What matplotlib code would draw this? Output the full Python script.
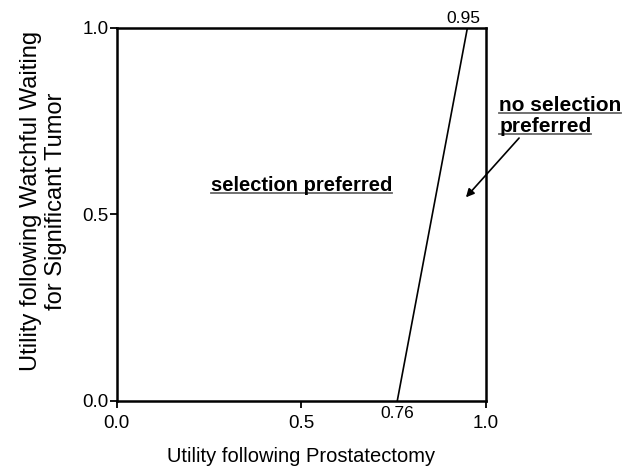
"""Threshold plot: selection vs no selection preferred."""

import matplotlib
matplotlib.use('Agg')
import matplotlib.pyplot as plt

# Data
threshold_x = [0.76, 0.95]
threshold_y = [0.0, 1.0]
x_ticks = [0.0, 0.5, 1.0]
y_ticks = [0.0, 0.5, 1.0]
tick_labels = ['0.0', '0.5', '1.0']

plt.rcParams['font.family'] = ['Liberation Sans', 'DejaVu Sans']


def underline(fig, axes, text, pad=2):
    """Draws a grey underline below a text object."""
    fig.canvas.draw()
    bbox = text.get_window_extent()
    inv = axes.transAxes.inverted()
    (x0, y0), (x1, _) = inv.transform([(bbox.x0, bbox.y0 - pad + 4),
                                       (bbox.x1, bbox.y0)])
    axes.plot([x0, x1], [y0, y0], transform=axes.transAxes, color='#666666',
              lw=1.3, clip_on=False)


def main():
    fig = plt.figure(figsize=(6.31, 4.71), dpi=100)
    axes = fig.add_axes([0.185, 0.149, 0.585, 0.792])

    axes.plot(threshold_x, threshold_y, color='black', lw=1.2)
    axes.set_xlim(0, 1)
    axes.set_ylim(0, 1)
    axes.set_xticks(x_ticks)
    axes.set_xticklabels(tick_labels)
    axes.set_yticks(y_ticks)
    axes.set_yticklabels(tick_labels)
    axes.tick_params(direction='out', length=5, width=1.3, labelsize=13.5,
                     color='black')
    axes.tick_params(axis='x', pad=5)
    axes.tick_params(axis='y', pad=1)
    for spine in axes.spines.values():
        spine.set_linewidth(1.8)

    axes.set_xlabel('Utility following Prostatectomy', fontsize=14.5,
                    labelpad=11)
    axes.set_ylabel('Utility following Watchful Waiting\nfor Significant Tumor',
                    fontsize=17)
    axes.yaxis.set_label_coords(-0.135, 0.536)

    # Threshold value labels
    axes.text(threshold_x[0], -0.015, '0.76', ha='center', va='top',
              fontsize=12.5)
    axes.text(threshold_x[1] - 0.012, 1.006, '0.95', ha='center',
              va='bottom', fontsize=12.5)

    # Region labels
    sel = axes.text(0.50, 0.576, 'selection preferred', ha='center',
                    va='center', fontsize=14.5, fontweight='bold')
    no1 = axes.text(1.036, 0.792, 'no selection', ha='left', va='center',
                    fontsize=15, fontweight='bold', clip_on=False)
    no2 = axes.text(1.036, 0.735, 'preferred', ha='left', va='center',
                    fontsize=15, fontweight='bold', clip_on=False)
    axes.annotate('', xy=(0.941, 0.54), xytext=(1.095, 0.71),
                  arrowprops=dict(arrowstyle='-|>', color='black', lw=1.2,
                                  mutation_scale=12),
                  annotation_clip=False)
    for text in (sel, no1, no2):
        underline(fig, axes, text)

    plt.savefig('out.png', dpi=100)
    plt.close()


if __name__ == '__main__':
    main()
